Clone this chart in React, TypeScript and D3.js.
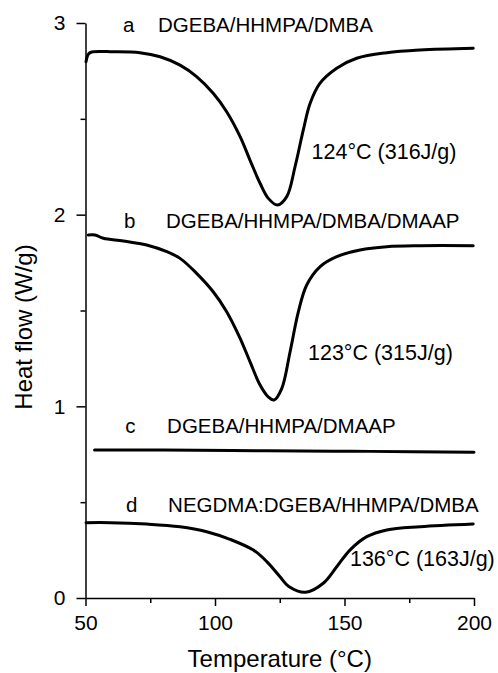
import React, { useEffect, useRef } from 'react';
import * as d3 from 'd3';

// Temperature (°C) / heat flow (W/g)
const tempA = [50.2, 51.1, 52.4, 60.7, 71, 78.8, 86.5, 92.9, 99.3, 104.5, 109.7, 113.5, 117.4, 120.6, 124.1, 127.7, 130.9, 134.1, 136.7, 140.5, 147, 154.7, 166.3, 179.2, 199.7];
const flowA = [2.798, 2.838, 2.849, 2.85, 2.845, 2.824, 2.78, 2.72, 2.633, 2.537, 2.407, 2.285, 2.164, 2.085, 2.05, 2.094, 2.25, 2.442, 2.58, 2.685, 2.764, 2.816, 2.845, 2.859, 2.868];

const tempB = [51.1, 53.7, 56.9, 64.6, 73.6, 81.4, 86.5, 92.9, 99.3, 104.5, 109.7, 113.5, 117.4, 120.5, 122.8, 125.8, 129, 132.2, 135.4, 140.5, 147, 156, 166.3, 179.2, 199.7];
const flowB = [1.894, 1.894, 1.877, 1.863, 1.842, 1.807, 1.772, 1.694, 1.598, 1.494, 1.355, 1.233, 1.111, 1.05, 1.033, 1.094, 1.285, 1.494, 1.633, 1.728, 1.781, 1.816, 1.833, 1.838, 1.838];

const tempC = [53.5, 80, 120, 160, 200];
const flowC = [0.772, 0.772, 0.768, 0.765, 0.76];

const tempD = [50.2, 59.5, 73.6, 86.5, 96.8, 105.8, 114.8, 120, 125.1, 128.5, 135, 141.8, 147, 152.1, 158.6, 166.3, 179.2, 199.7];
const flowD = [0.393, 0.393, 0.386, 0.372, 0.346, 0.306, 0.25, 0.19, 0.111, 0.06, 0.03, 0.077, 0.163, 0.25, 0.32, 0.355, 0.372, 0.386];

const xTicks = [50, 100, 150, 200];
const xMinor = [75, 125, 175];
const yTicks = [0, 1, 2, 3];
const yMinor = [0.5, 1.5, 2.5];

const letters = ['a', 'b', 'c', 'd'];
const letterT = [64.5, 64.9, 65.3, 65.6];
const letterH = [2.953, 1.93, 0.861, 0.449];
const systems = ['DGEBA/HHMPA/DMBA', 'DGEBA/HHMPA/DMBA/DMAAP', 'DGEBA/HHMPA/DMAAP', 'NEGDMA:DGEBA/HHMPA/DMBA'];
const systemT = [78, 81.1, 81.5, 81.9];

const peaks = ['124°C (316J/g)', '123°C (315J/g)', '136°C (163J/g)'];
const peakT = [137.3, 135.9, 152.1];
const peakH = [2.29, 1.242, 0.167];

const FONT = '"Liberation Sans", Arial, Helvetica, sans-serif';

const App: React.FC = () => {
  const svgRef = useRef<SVGSVGElement>(null);

  useEffect(() => {
    if (!svgRef.current) return;

    const W = 498;
    const H = 673;
    const margin = { top: 23, right: 24, bottom: 75, left: 85.5 };
    const width = W - margin.left - margin.right;
    const height = H - margin.top - margin.bottom;

    const root = d3.select(svgRef.current).html('');
    const svg = root.append('g').attr('transform', `translate(${margin.left},${margin.top})`);

    const x = d3.scaleLinear().domain([50, 200]).range([0, width]);
    const y = d3.scaleLinear().domain([0, 3]).range([height, 0]);

    // axes
    const xAxis = svg.append('g')
      .attr('transform', `translate(0,${height})`)
      .call(d3.axisBottom(x).tickValues(xTicks).tickSize(8).tickPadding(9).tickSizeOuter(0));
    xAxis.append('g').call(d3.axisBottom(x).tickValues(xMinor).tickSize(5).tickFormat(() => '')).select('.domain').remove();

    const yAxis = svg.append('g')
      .call(d3.axisLeft(y).tickValues(yTicks).tickSize(9).tickPadding(11).tickSizeOuter(0).tickFormat(d3.format('d')));
    yAxis.append('g').call(d3.axisLeft(y).tickValues(yMinor).tickSize(5).tickFormat(() => '')).select('.domain').remove();

    svg.selectAll('.domain, .tick line').attr('stroke', '#000').attr('stroke-width', 1.5);
    svg.selectAll('.tick text')
      .style('font-family', FONT)
      .style('font-size', '21px')
      .attr('fill', '#000');

    // curves
    const line = d3.line<[number, number]>()
      .x(d => x(d[0]))
      .y(d => y(d[1]))
      .curve(d3.curveCatmullRom.alpha(0.5));

    const series: [number[], number[]][] = [[tempA, flowA], [tempB, flowB], [tempC, flowC], [tempD, flowD]];
    series.forEach(([ts, hs]) => {
      svg.append('path')
        .datum(ts.map((t, i) => [t, hs[i]] as [number, number]))
        .attr('d', line)
        .attr('fill', 'none')
        .attr('stroke', '#000')
        .attr('stroke-width', 3)
        .attr('stroke-linejoin', 'round')
        .attr('stroke-linecap', 'round');
    });

    // labels
    letters.forEach((l, i) => {
      svg.append('text')
        .attr('x', x(letterT[i]))
        .attr('y', y(letterH[i]))
        .style('font-family', FONT)
        .style('font-size', '20.5px')
        .text(l);
      svg.append('text')
        .attr('x', x(systemT[i]))
        .attr('y', y(letterH[i]))
        .style('font-family', FONT)
        .style('font-size', '20.5px')
        .text(systems[i]);
    });

    peaks.forEach((p, i) => {
      svg.append('text')
        .attr('x', x(peakT[i]))
        .attr('y', y(peakH[i]))
        .style('font-family', FONT)
        .style('font-size', '21.5px')
        .text(p);
    });

    // axis titles
    root.append('text')
      .attr('x', margin.left + width / 2)
      .attr('y', 667)
      .attr('text-anchor', 'middle')
      .style('font-family', FONT)
      .style('font-size', '24px')
      .text('Temperature (°C)');

    root.append('text')
      .attr('transform', `translate(32,327) rotate(-90)`)
      .attr('text-anchor', 'middle')
      .style('font-family', FONT)
      .style('font-size', '24px')
      .text('Heat flow (W/g)');
  }, []);

  return (
    <svg
      ref={svgRef}
      width={498}
      height={673}
      style={{ position: 'absolute', left: 0, top: 0, background: '#fff' }}
    />
  );
};

export default App;
